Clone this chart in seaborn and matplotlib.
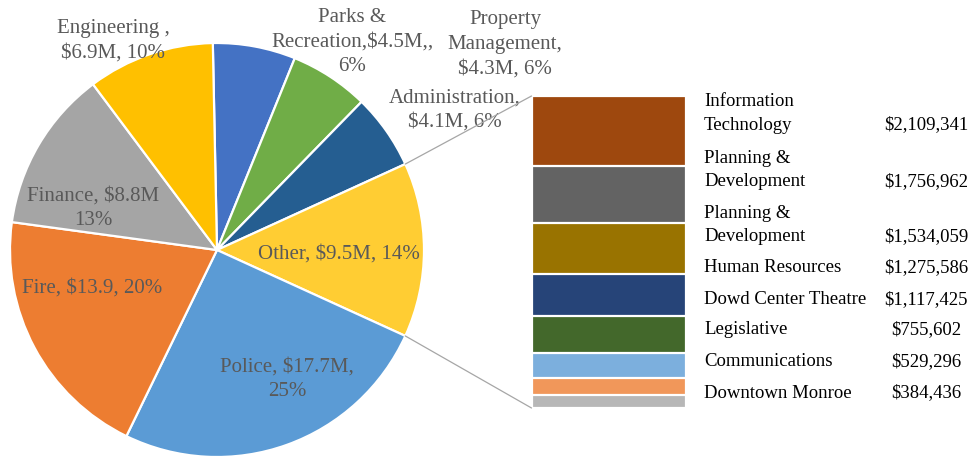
import math
import matplotlib
matplotlib.use("Agg")
import matplotlib.pyplot as plt
import seaborn as sns
from matplotlib.patches import ConnectionPatch

# Main pie: departmental budgets (millions of dollars), clockwise from the top
departments = ["Parks & Recreation", "Property Management", "Administration", "Other",
               "Police", "Fire", "Finance", "Engineering"]
budget_millions = [4.5, 4.3, 4.1, 9.5, 17.7, 13.9, 8.8, 6.9]
pie_labels = ["Parks &\nRecreation,$4.5M,,\n6%",
              "Property\nManagement,\n$4.3M, 6%",
              "Administration,\n$4.1M, 6%",
              "Other, $9.5M, 14%",
              "Police, $17.7M,\n25%",
              "Fire, $13.9, 20%",
              "Finance, $8.8M\n13%",
              "Engineering ,\n$6.9M, 10%"]
pie_colors = ["#4472C4", "#70AD47", "#255E91", "#FFCD33",
              "#5B9BD5", "#ED7D31", "#A5A5A5", "#FFC000"]

# Breakdown of the "Other" slice (dollars), top of the bar to bottom
other_departments = ["Information\nTechnology", "Planning &\nDevelopment", "Planning &\nDevelopment",
                     "Human Resources", "Dowd Center Theatre", "Legislative",
                     "Communications", "Downtown Monroe"]
other_amounts = [2109341, 1756962, 1534059, 1275586, 1117425, 755602, 529296, 384436]
other_value_labels = ["$2,109,341", "$1,756,962", "$1,534,059", "$1,275,586",
                      "$1,117,425", "$755,602", "$529,296", "$384,436"]
other_colors = ["#9E480E", "#636363", "#997300", "#264478",
                "#43682B", "#7CAFDD", "#F1975A", "#B7B7B7"]

sns.set_theme(style="white")
plt.rcParams["font.family"] = ["Liberation Serif", "DejaVu Serif"]

W, H = 974, 458
fig = plt.figure(figsize=(W / 100, H / 100), dpi=100)

# Pie axes spans the whole figure in pixel units (y up)
ax = fig.add_axes([0, 0, 1, 1])
ax.set_xlim(0, W)
ax.set_ylim(0, H)
ax.set_aspect("equal")
ax.axis("off")

total = sum(budget_millions)
other_idx = departments.index("Other")
# rotate so the "Other" slice is centred on the right-hand side
start = 360 * (sum(budget_millions[:other_idx]) + budget_millions[other_idx] / 2) / total

cx, cy, r = 217, H - 250, 207
wedges, _ = ax.pie(budget_millions, colors=sns.color_palette(pie_colors),
                   startangle=start, counterclock=False, center=(cx, cy), radius=r,
                   wedgeprops=dict(edgecolor="white", linewidth=1.6))
ax.set_xlim(0, W)
ax.set_ylim(0, H)

label_pos = [(352, 42), (505, 44), (455, 110), (339, 254),
             (287, 379), (92, 288), (93, 208), (113, 41)]
for text, (x, y) in zip(pie_labels, label_pos):
    ax.text(x, H - y, text, ha="center", va="center", fontsize=15,
            color="#595959", linespacing=1.4)

# Stacked bar for the "Other" breakdown
bx0, bx1, by0, by1 = 531.5, 686, 96, 408
axb = fig.add_axes([bx0 / W, (H - by1) / H, (bx1 - bx0) / W, (by1 - by0) / H])
for i, col in enumerate(other_colors):
    height = sum(other_amounts[i:])
    sns.barplot(x=[0], y=[height], color=col, width=1, errorbar=None,
                edgecolor="white", linewidth=1.6, saturation=1, ax=axb)
axb.set_xlim(-0.5, 0.5)
axb.set_ylim(0, sum(other_amounts))
axb.axis("off")

# Connector lines from the "Other" slice to the bar
ow = wedges[other_idx]
for theta, yb in ((ow.theta2, sum(other_amounts)), (ow.theta1, 0)):
    px = cx + r * math.cos(math.radians(theta))
    py = cy + r * math.sin(math.radians(theta))
    con = ConnectionPatch(xyA=(px, py), coordsA=ax.transData,
                          xyB=(-0.5, yb), coordsB=axb.transData,
                          color="#A6A6A6", linewidth=0.9)
    fig.add_artist(con)

# Table of names and amounts beside the bar
name_y = [113.5, 170, 225, 268, 300, 330, 362, 393]
for name, val, y in zip(other_departments, other_value_labels, name_y):
    last_line_y = y + (11.5 if "\n" in name else 0)
    fig.text(704 / W, 1 - y / H, name, ha="left", va="center", fontsize=13.5,
             color="black", linespacing=1.5)
    fig.text(926 / W, 1 - last_line_y / H, val, ha="center", va="center",
             fontsize=13.5, color="black")

fig.savefig("out.png", dpi=100)
